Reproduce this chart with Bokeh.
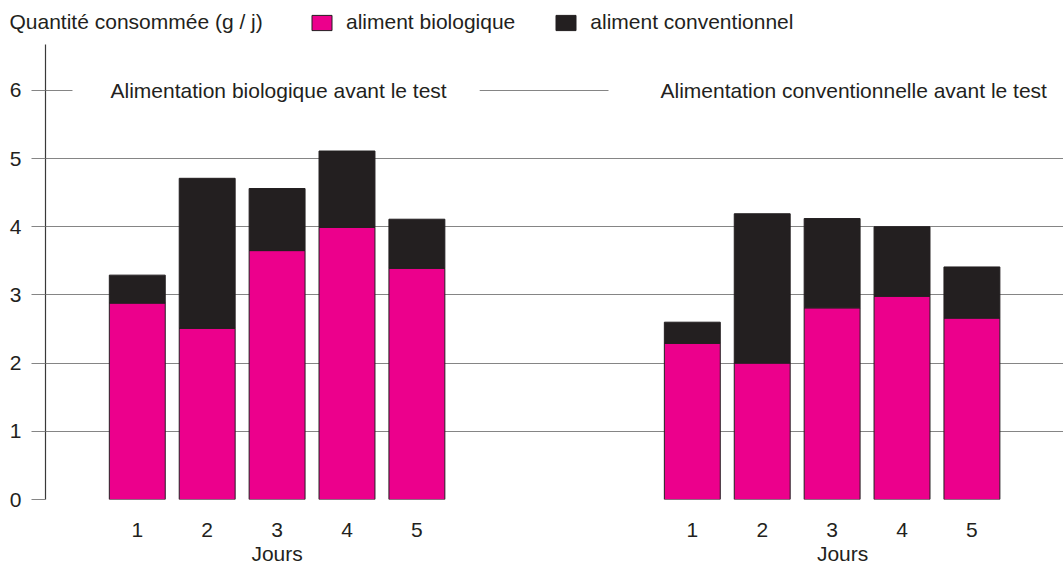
from bokeh.plotting import figure
from bokeh.layouts import column
from bokeh.models import (ColumnDataSource, FixedTicker, LinearAxis, Label,
                          Legend, LegendItem, Range1d)
from bokeh.embed import file_html
from bokeh.resources import INLINE

# ---------------- data ----------------
days = [1, 2, 3, 4, 5]
day_labels = ["1", "2", "3", "4", "5"]
x_title = "Jours"
y_title = "Quantité consommée (g / j)"
y_ticks = [0, 1, 2, 3, 4, 5, 6]
group_titles = ["Alimentation biologique avant le test",
                "Alimentation conventionnelle avant le test"]
series_names = ["aliment biologique", "aliment conventionnel"]

# group 1 : alimentation biologique avant le test
bio_group1 = [2.88, 2.51, 3.65, 3.99, 3.39]
conv_group1 = [0.41, 2.20, 0.91, 1.12, 0.72]
# group 2 : alimentation conventionnelle avant le test
bio_group2 = [2.29, 2.00, 2.81, 2.98, 2.66]
conv_group2 = [0.31, 2.19, 1.31, 1.02, 0.75]

# ---------------- style / layout ----------------
PINK = "#EC008C"
BLACK = "#231F20"
TEXT = "#231F20"
GRID = "#858585"
FONT = "Liberation Sans"
FS = "21px"
GROUP_OFFSET = 7.94       # distance (in x units) between the two groups
BAR_WIDTH = 0.8
W = 1063

x1 = list(days)
x2 = [d + GROUP_OFFSET for d in days]
src = ColumnDataSource(dict(
    x=x1 + x2,
    bio=bio_group1 + bio_group2,
    conv=conv_group1 + conv_group2,
))

# ---------------- header strip: quantity title + legend ----------------
# (its ranges keep the bars out of view: the renderers only feed the legend)
head = figure(width=W, height=44, x_range=Range1d(-1001, -1000), y_range=Range1d(0, 1),
              output_backend="svg", toolbar_location=None,
              x_axis_location=None, y_axis_location=None,
              min_border_left=0, min_border_right=0,
              min_border_top=0, min_border_bottom=0)
head.frame_align = False
head.outline_line_color = None
for g in list(head.xgrid) + list(head.ygrid):
    g.visible = False

head.add_layout(Label(x=9, y=23, x_units="screen", y_units="screen",
                      text=y_title, text_baseline="middle",
                      text_font=FONT, text_font_size=FS, text_color=TEXT))

key_rs = head.vbar_stack(["bio", "conv"], x="x", width=BAR_WIDTH, source=src,
                         fill_color=[PINK, BLACK], line_color=BLACK, line_width=1)
legend = Legend(items=[LegendItem(label=series_names[0], renderers=[key_rs[0]]),
                       LegendItem(label=series_names[1], renderers=[key_rs[1]])],
                orientation="horizontal", location=(309, 10),
                padding=0, margin=0, spacing=38, label_standoff=12,
                glyph_width=25, glyph_height=19,
                border_line_color=None, background_fill_alpha=0,
                label_text_font=FONT, label_text_font_size=FS,
                label_text_color=TEXT)
head.add_layout(legend)

# ---------------- main chart ----------------
p = figure(width=W, height=524,
           x_range=Range1d(-0.313, 14.25), y_range=Range1d(0, 6.672),
           output_backend="svg", toolbar_location=None,
           x_axis_location=None, y_axis_location="left",
           min_border_left=45, min_border_right=0,
           min_border_top=0, min_border_bottom=69)
p.frame_align = False
p.outline_line_color = None
p.background_fill_color = "white"
p.border_fill_color = "white"

# y axis
yax = p.yaxis[0]
yax.ticker = FixedTicker(ticks=y_ticks)
yax.axis_line_color = "#3a3a3a"
yax.axis_line_width = 1.2
yax.major_tick_out = 14
yax.major_tick_in = 0
yax.major_tick_line_color = GRID
yax.major_tick_line_width = 1.2
yax.minor_tick_line_color = None
yax.major_label_standoff = 10
yax.major_label_text_font = FONT
yax.major_label_text_font_size = FS
yax.major_label_text_color = TEXT

for g in p.xgrid:
    g.visible = False
for g in p.ygrid:
    g.grid_line_color = GRID
    g.grid_line_width = 1.2

# x axis with day numbers
overrides = {}
for pos, lbl in zip(x1, day_labels):
    overrides[pos] = lbl
for pos, lbl in zip(x2, day_labels):
    overrides[pos] = lbl
xax = LinearAxis(ticker=FixedTicker(ticks=x1 + x2),
                 major_label_overrides=overrides,
                 axis_line_color=None, major_tick_line_color=None,
                 minor_tick_line_color=None, major_tick_out=0, major_tick_in=0,
                 major_label_standoff=23,
                 major_label_text_font=FONT, major_label_text_font_size=FS,
                 major_label_text_color=TEXT)
p.add_layout(xax, "below")

# second axis carrying the "Jours" titles under each group
jours_pos = [days[2], days[2] + GROUP_OFFSET + 0.15]
jax = LinearAxis(ticker=FixedTicker(ticks=jours_pos),
                 major_label_overrides={jours_pos[0]: x_title, jours_pos[1]: x_title},
                 axis_line_color=None, major_tick_line_color=None,
                 minor_tick_line_color=None, major_tick_out=0, major_tick_in=0,
                 major_label_standoff=2,
                 major_label_text_font=FONT, major_label_text_font_size=FS,
                 major_label_text_color=TEXT)
p.add_layout(jax, "below")

# stacked bars
rs = p.vbar_stack(["bio", "conv"], x="x", width=BAR_WIDTH, source=src,
                  fill_color=[PINK, BLACK], line_color=BLACK, line_width=1)

# group titles on the 6 line (white box interrupts the grid line)
p.add_layout(Label(x=0.073, y=6, text=group_titles[0], text_baseline="middle",
                   text_font=FONT, text_font_size=FS, text_color=TEXT,
                   background_fill_color="white",
                   padding=dict(top=3, right=33, bottom=3, left=38)))
p.add_layout(Label(x=7.741, y=6, text=group_titles[1], text_baseline="middle",
                   text_font=FONT, text_font_size=FS, text_color=TEXT,
                   background_fill_color="white",
                   padding=dict(top=3, right=40, bottom=3, left=52)))

layout = column(head, p, spacing=0)
open("out.html", "w").write(file_html(layout, INLINE))
